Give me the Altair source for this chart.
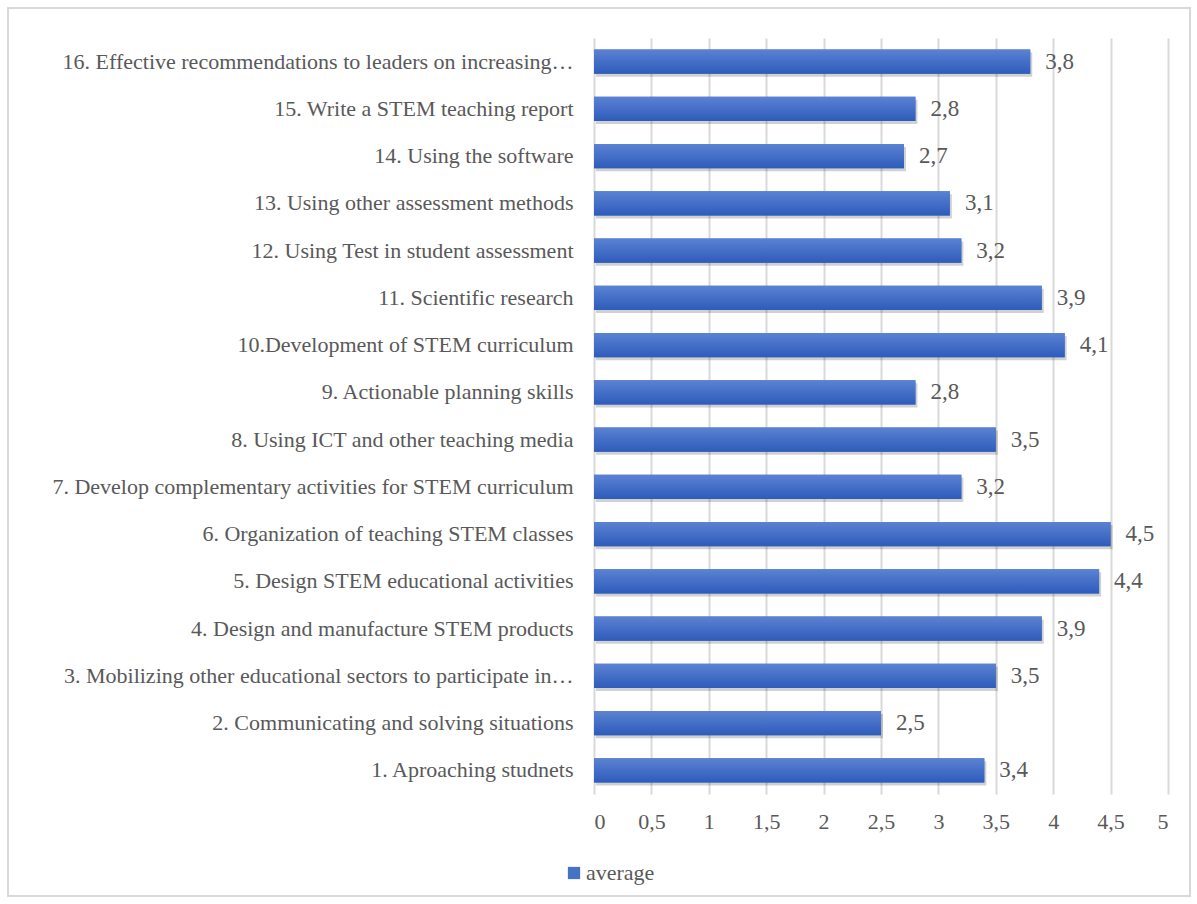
import altair as alt
import pandas as pd

categories = [
    "16. Effective recommendations to leaders on increasing…",
    "15. Write a STEM teaching report",
    "14. Using the software",
    "13. Using other assessment methods",
    "12. Using Test in student assessment",
    "11. Scientific research",
    "10.Development of STEM curriculum",
    "9. Actionable planning skills",
    "8. Using ICT and other teaching media",
    "7. Develop complementary activities for STEM curriculum",
    "6. Organization of teaching STEM classes",
    "5. Design STEM educational activities",
    "4. Design and manufacture STEM products",
    "3. Mobilizing other educational sectors to participate in…",
    "2. Communicating and solving situations",
    "1. Aproaching studnets",
]
values = [3.8, 2.8, 2.7, 3.1, 3.2, 3.9, 4.1, 2.8, 3.5, 3.2, 4.5, 4.4, 3.9, 3.5, 2.5, 3.4]
series_name = "average"
x_ticks = [0, 0.5, 1, 1.5, 2, 2.5, 3, 3.5, 4, 4.5, 5]

df = pd.DataFrame({"task": categories, "value": values, "series": series_name})
df["label"] = [f"{v:.1f}".replace(".", ",") for v in values]

W, H = 574, 756
PAD_L, PAD_T = 594, 38
FONT = "Liberation Serif"
TXT = "#595959"
FS = 23

y_enc = alt.Y(
    "task:N", sort=categories, title=None,
    scale=alt.Scale(paddingInner=0.49, paddingOuter=0.245),
    axis=alt.Axis(labelFont=FONT, labelFontSize=22, labelColor=TXT, labelPadding=21,
                  ticks=False, domain=False, labelLimit=700, grid=False),
)
x_enc = alt.X(
    "value:Q", title=None,
    scale=alt.Scale(domain=[0, 5], nice=False),
    axis=alt.Axis(values=x_ticks, labelExpr="replace(toString(datum.value), '.', ',')",
                  grid=True, gridColor="#d9d9d9", gridWidth=2, ticks=False, domain=False,
                  labelFont=FONT, labelFontSize=22, labelColor=TXT, labelPadding=17),
)

base = alt.Chart(df)

shadow = base.mark_bar(color="#000000", opacity=0.18, xOffset=2, x2Offset=3, yOffset=3).encode(
    x=x_enc, y=y_enc
)

legend_bars = base.mark_bar().encode(
    x=x_enc, y=y_enc,
    color=alt.Color("series:N", scale=alt.Scale(range=["#4472c4"]),
                    legend=alt.Legend(orient="none", legendX=-31, legendY=824, title=None,
                                      symbolType="square", symbolSize=150, symbolStrokeWidth=0,
                                      labelFont=FONT, labelFontSize=22, labelColor=TXT,
                                      labelOffset=1)),
)

grad = alt.Gradient(
    gradient="linear",
    stops=[alt.GradientStop(offset=0, color="#5b82d3"), alt.GradientStop(offset=1, color="#2e5cbb")],
    x1=0, x2=0, y1=0, y2=1,
)
bars = base.mark_bar(color=grad).encode(x=x_enc, y=y_enc)

labels = base.mark_text(align="left", baseline="middle", dx=15, font=FONT, fontSize=FS, color=TXT).encode(
    x=x_enc, y=y_enc, text="label:N"
)

frame = alt.Chart(pd.DataFrame({"k": [0]})).mark_rect(fillOpacity=0, stroke="#d9d9d9", strokeWidth=2).encode(
    x=alt.value(8 - PAD_L), x2=alt.value(1190 - PAD_L), y=alt.value(8 - PAD_T), y2=alt.value(896 - PAD_T)
)

chart = alt.layer(shadow, legend_bars, bars, labels, frame).properties(
    width=W, height=H,
    autosize=alt.AutoSizeParams(type="none"),
    padding={"left": PAD_L, "top": PAD_T, "right": 1197 - PAD_L - W, "bottom": 904 - PAD_T - H},
    background="white",
).configure_view(stroke=None)

chart.save("out.html", embed_options={"renderer": "svg", "actions": False})
